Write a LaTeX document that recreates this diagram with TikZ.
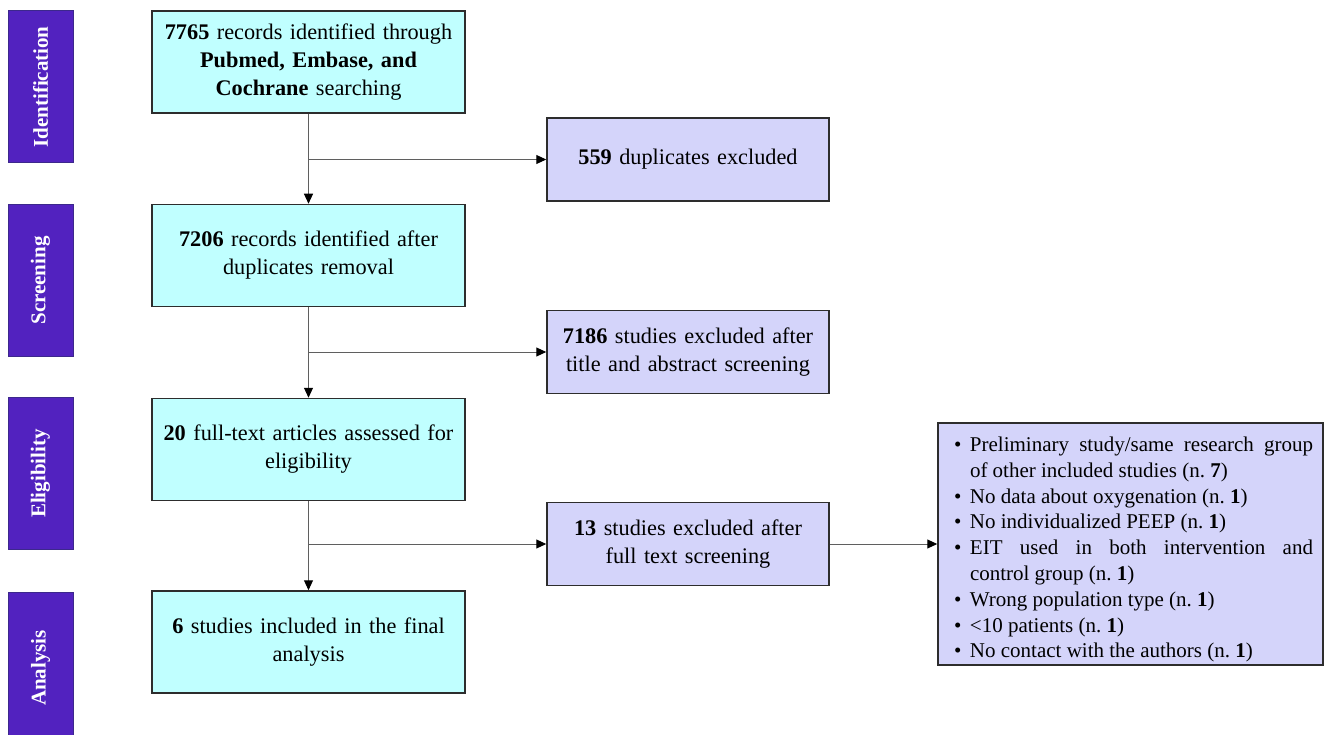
\documentclass[tikz,border=0pt]{standalone}
\usepackage{fontspec}
\setmainfont{Liberation Serif}
\usetikzlibrary{arrows.meta}
\usetikzlibrary{positioning}
\definecolor{stagepurple}{RGB}{82,34,191}
\definecolor{stageedge}{RGB}{60,40,140}
\definecolor{maincyan}{RGB}{192,255,255}
\definecolor{excllav}{RGB}{212,212,250}
\definecolor{boxedge}{RGB}{45,45,45}
\definecolor{flowgray}{RGB}{95,95,95}
\newcommand\reason[1]{\par\noindent\hangindent=22pt\hangafter=1\makebox[22pt][l]{\hspace{6pt}\textbullet}#1}
\frenchspacing
\hyphenpenalty=10000

\begin{document}
\begin{tikzpicture}[x=1pt,y=1pt,
  stage/.style={draw=stageedge, fill=stagepurple, line width=1pt, text=white,
    font=\fontsize{21}{25}\selectfont\bfseries, rotate=90,
    minimum width=152pt, minimum height=65pt, inner sep=0pt},
  mainbox/.style={draw=boxedge, fill=maincyan, line width=1.5pt,
    minimum width=313pt, minimum height=102pt, text width=308pt, align=center,
    inner sep=0pt, font=\fontsize{22.3}{28}\selectfont},
  exclbox/.style={draw=boxedge, fill=excllav, line width=1.5pt,
    minimum width=282pt, minimum height=83pt, text width=278pt, align=center,
    inner sep=0pt, font=\fontsize{22.3}{28}\selectfont},
  flow/.style={draw=flowgray, line width=1pt, -{Triangle[length=10pt,width=9pt,color=black]}}]
  \useasboundingbox (0,0) rectangle (1325,-735);

  % stages
  \node[stage] (sIdent) at (40.5,-87) {Identification};
  \node[stage] (sScreen) at (40.5,-280.5) {Screening};
  \node[stage] (sElig) at (40.5,-473.5) {Eligibility};
  \node[stage] (sAnal) at (40.5,-668) {Analysis};

  % main column
  \node[mainbox] (ident) at (308.5,-62) {\textbf{7765} records identified through\\ \textbf{Pubmed, Embase, and}\\ \textbf{Cochrane} searching};
  \node[mainbox] (screen) at (308.5,-255.5) {\textbf{7206} records identified after\\ duplicates removal};
  \node[mainbox] (fulltext) at (308.5,-449.5) {\textbf{20} full-text articles assessed for\\ eligibility};
  \node[mainbox] (included) at (308.5,-642) {\textbf{6} studies included in the final\\ analysis};

  % excluded
  \node[exclbox] (dup) at (688,-159.5) {\textbf{559} duplicates excluded};
  \node[exclbox] (title) at (688,-352) {\textbf{7186} studies excluded after\\ title and abstract screening};
  \node[exclbox] (ftexcl) at (688,-544) {\textbf{13} studies excluded after\\ full text screening};
  \node[draw=boxedge, fill=excllav, line width=1.5pt, minimum height=242pt,
    text width=365pt, align=justify, inner xsep=10pt, inner ysep=0pt,
    font=\fontsize{21}{25.8}\selectfont] (reasons) at (1130.5,-544) {%
    \reason{Preliminary study/same research group of other included studies (n. \textbf{7})}
    \reason{No data about oxygenation (n. \textbf{1})}
    \reason{No individualized PEEP (n. \textbf{1})}
    \reason{EIT used in both intervention and\linebreak control group (n. \textbf{1})}
    \reason{Wrong population type (n. \textbf{1})}
    \reason{<10 patients (n. \textbf{1})}
    \reason{No contact with the authors (n. \textbf{1})}\par};

  % connectors
  \draw[flow] (ident.south) -- (screen.north);
  \draw[flow] (screen.south) -- (fulltext.north);
  \draw[flow] (fulltext.south) -- (included.north);
  \coordinate (b1) at (ident.south |- dup.west);
  \coordinate (b2) at (screen.south |- title.west);
  \coordinate (b3) at (fulltext.south |- ftexcl.west);
  \draw[flow] (b1) -- (dup.west);
  \draw[flow] (b2) -- (title.west);
  \draw[flow] (b3) -- (ftexcl.west);
  \draw[flow] (ftexcl.east) -- (reasons.west);
\end{tikzpicture}
\end{document}
